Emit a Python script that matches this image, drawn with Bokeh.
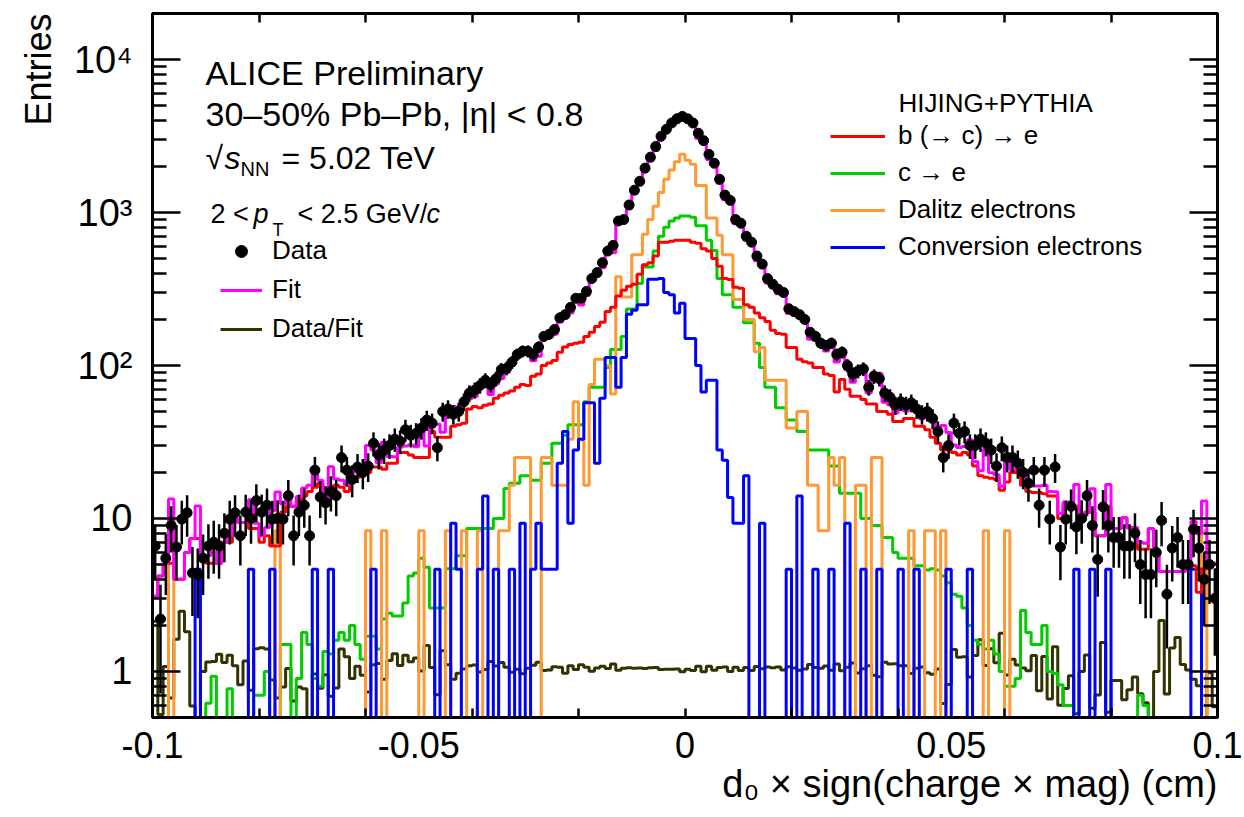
import numpy as np
from bokeh.plotting import figure
from bokeh.models import (Range1d, LinearAxis, LogAxis, FixedTicker, Label,
                          Legend, LegendItem, Title)
from bokeh.embed import file_html
from bokeh.resources import INLINE

# ---------------- data (200 bins of 0.001 cm, from -0.1 to 0.1) ----------------
x_low, x_high, n_bins = -0.1, 0.1, 200
y_low, y_high = 0.5, 2.0e4

b_to_e = [
    3.1, 4.2, 5.1, 5.1, 4.0, 4.0, 6.0, 7.4, 7.4, 5.5,
    5.1, 5.1, 5.1, 7.0, 7.0, 10, 9.4, 9.4, 8.6, 8.6,
    7.0, 7.7, 6.6, 6.6, 11, 12, 12, 13, 14, 15,
    16, 17, 12, 15.8, 16.5, 16, 15, 18, 18.6, 20,
    20, 21.7, 21.7, 21, 23, 23, 27, 27, 26, 25,
    25, 25, 37, 34, 34, 34, 40, 41, 42, 52,
    54, 53, 55, 56, 61, 64, 66, 68, 72, 75,
    74, 85, 88, 100, 104, 108, 122, 132, 137, 140,
    142, 155, 165, 180, 192, 225, 240, 285, 310, 330,
    340, 395, 455, 470, 520, 640, 640, 650, 660, 660,
    660, 640, 630, 580, 560, 500, 445, 370, 365, 325,
    320, 250, 240, 220, 205, 194, 170, 162, 160, 131,
    131, 110, 106, 104, 97, 97, 88, 86, 67, 81,
    70, 63, 63, 60, 56, 56, 50, 50, 48, 43,
    43, 45, 45, 40, 40, 38, 34, 31, 28, 28,
    27, 26, 27, 26, 22, 19, 18.6, 18.3, 18, 15.3,
    17.3, 20, 20, 16.5, 15, 14.8, 14.8, 14.5, 14, 14,
    10, 12.2, 12.2, 12, 10, 11, 11, 7.7, 7.7, 12,
    8.6, 8.6, 10.1, 8.7, 8.7, 6.3, 6.3, 8.6, 6.0, 4.5,
    4.5, 4.5, 4.5, 4.5, 4.9, 4.9, 3.3, 4.7, 5.1, 5.1,
]

c_to_e = [
    0, 0, 0, 0, 0, 0, 0, 0, 0, 0,
    0.62, 0.93, 0, 0, 0.77, 0, 0, 0, 0, 0.7,
    0.7, 1.0, 0, 0, 1.5, 1.5, 0, 0.9, 1.8, 1.5,
    0.9, 0.8, 1.35, 1.3, 1.6, 1.8, 1.6, 2.0, 1.5, 1.2,
    1.7, 1.7, 1.4, 2.2, 2.4, 2.3, 2.3, 2.8, 4.2, 4.4,
    5.5, 4.8, 2.6, 2.6, 2.6, 4.7, 4.7, 5.7, 5.7, 8.6,
    8.6, 8.6, 8.6, 8.6, 10, 10, 15.7, 17, 17, 19,
    19, 17.8, 17.8, 23, 23, 31, 31, 35, 41, 41,
    41, 58, 72, 72, 72, 97, 127, 127, 155, 234,
    234, 343, 440, 440, 560, 700, 800, 880, 920, 950,
    950, 930, 820, 820, 660, 565, 370, 290, 290, 240,
    240, 190, 190, 140, 97, 72, 72, 53, 53, 44,
    44, 37, 37, 28, 28, 28, 28, 22, 22, 14.6,
    14.6, 14.6, 14.6, 10, 10, 9, 9, 7.5, 7.5, 6,
    5.5, 5.5, 5.5, 4.9, 4.9, 4.6, 4.7, 4.6, 4.2, 3.8,
    3.2, 3.1, 2.6, 2.0, 1.6, 1.5, 1.4, 1.6, 1.3, 1.0,
    0.8, 0.8, 0.9, 2.5, 1.8, 1.5, 1.5, 2.0, 1.0, 0.97,
    0.82, 0.6, 0.6, 0, 0, 0, 0, 0, 0, 0,
    0, 0, 0, 0, 0, 0.7, 0.6, 0, 0, 0,
    0, 0, 0, 0, 0, 0, 0, 0, 0, 0,
]

dalitz = [
    0, 0, 0, 8.3, 0, 0, 0, 0, 0, 0,
    0, 0, 0, 0, 0, 0, 0, 0, 0, 0,
    0, 0, 0, 8.3, 0, 0, 0, 0, 0, 0,
    0, 0, 0, 0, 0, 0, 0, 0, 0, 0,
    8.3, 0, 0, 8.3, 0, 0, 0, 0, 0, 0,
    8.3, 0, 0, 0, 0, 8.3, 0, 0, 8.3, 0,
    0, 8.3, 0, 0, 0, 8.3, 8.3, 16.5, 25, 25,
    25, 0, 0, 25, 25, 16.5, 16.5, 16.5, 33, 58,
    33, 16.5, 75, 110, 110, 100, 65, 380, 280, 280,
    530, 530, 720, 900, 1100, 1350, 1650, 1900, 2150, 2400,
    2200, 2070, 1500, 1500, 920, 920, 710, 530, 530, 270,
    270, 200, 200, 123, 131, 80, 80, 80, 80, 39,
    39, 50, 50, 16.5, 16.5, 8.3, 8.3, 25, 16.5, 25,
    0, 0, 16.5, 16.5, 0, 25, 25, 0, 0, 0,
    0, 0, 8.3, 0, 0, 8.3, 8.3, 0, 8.3, 0,
    0, 0, 0, 0, 0, 0, 8.3, 0, 0, 0,
    8.3, 0, 0, 0, 0, 0, 0, 0, 0, 0,
    0, 0, 0, 0, 0, 0, 0, 0, 0, 0,
    0, 0, 0, 0, 0, 0, 0, 0, 0, 0,
    0, 0, 0, 0, 0, 0, 0, 8.3, 0, 0,
]

conversion = [
    0, 0, 0, 0, 0, 0, 0, 0, 4.65, 0,
    0, 0, 0, 0, 0, 0, 0, 0, 4.65, 0,
    0, 0, 4.65, 0, 0, 0, 0, 0, 0, 0,
    4.65, 0, 0, 4.65, 0, 0, 0, 0, 0, 0,
    0, 4.65, 0, 0, 0, 0, 0, 0, 0, 0,
    0, 0, 0, 4.65, 0, 0, 9.3, 4.65, 0, 0,
    0, 4.65, 14, 0, 4.65, 0, 0, 4.65, 0, 9.3,
    0, 4.65, 9.3, 4.65, 4.65, 4.65, 23, 37, 9.3, 28,
    33, 57, 57, 23, 61, 113, 113, 72, 113, 216,
    230, 250, 250, 366, 366, 370, 300, 290, 220, 255,
    150, 150, 100, 67, 80, 80, 28, 24, 13.7, 9.3,
    9.3, 19, 0, 0, 9.3, 0, 0, 0, 0, 4.65,
    0, 14, 0, 0, 4.65, 0, 0, 4.65, 0, 0,
    9.3, 0, 0, 4.65, 0, 0, 4.65, 0, 0, 0,
    4.65, 0, 0, 4.65, 0, 0, 0, 0, 0, 4.65,
    0, 0, 0, 4.65, 0, 0, 0, 0, 0, 0,
    0, 0, 0, 0, 0, 0, 0, 0, 0, 0,
    0, 0, 0, 4.65, 0, 0, 4.65, 0, 0, 4.65,
    0, 0, 0, 0, 0, 0, 0, 0, 0, 0,
    0, 0, 0, 0, 0, 4.65, 4.65, 0, 0, 0,
]

data_counts = [
    6.6, 2.2, 5.5, 9.0, 6.5, 9.9, 10.9, 4.4, 4.3, 5.5,
    6.6, 7.0, 6.6, 8.0, 9.9, 10.9, 7.7, 11, 10, 13.1,
    11, 12.2, 9.9, 10, 9.9, 14.1, 7.7, 11, 12.2, 7.7,
    20.7, 13.8, 12.7, 15, 14.1, 25, 20.7, 18, 21.7, 20,
    22, 31, 26, 28, 30, 33, 32, 38, 35, 36,
    39, 44, 42, 29, 50, 52, 48, 50, 58, 66,
    69, 74, 80, 75, 82, 94, 96, 105, 118, 124,
    124, 118, 132, 155, 160, 172, 205, 215, 240, 275,
    275, 305, 370, 405, 470, 560, 610, 880, 900, 1120,
    1400, 1600, 1950, 2300, 2700, 3150, 3500, 3850, 4100, 4250,
    4100, 3850, 3300, 2950, 2400, 2100, 1650, 1300, 1200, 900,
    850, 700, 640, 520, 460, 370, 340, 315, 300, 235,
    225, 215, 200, 165, 155, 140, 135, 140, 118, 122,
    100, 88, 92, 95, 72, 85, 82, 66, 62, 55,
    58, 55, 57, 52, 48, 50, 45, 37, 25, 30,
    42, 36, 37, 30, 30, 33, 31, 28, 22, 29,
    25, 25, 23, 20, 17, 20.7, 12.2, 20.7, 9.9, 21.7,
    6.5, 9.9, 12, 8.8, 10, 14.1, 9, 5.4, 11.9, 9,
    7.5, 7.5, 6.6, 6.6, 8, 5, 4.3, 4.3, 6, 9.7,
    3.2, 6.4, 7.5, 5, 5, 8.5, 6.4, 4, 5, 3,
]

x_label_ticks = [-0.1, -0.05, 0, 0.05, 0.1]
x_label_texts = ["-0.1", "-0.05", "0", "0.05", "0.1"]
x_tick_marks = [-0.1, -0.08, -0.06, -0.04, -0.02, 0, 0.02, 0.04, 0.06, 0.08, 0.1]
y_major_ticks = [1, 10, 100, 1000, 10000]
y_major_texts = ["1", "10", "10²", "10³", "10⁴"]

series_labels = ["b (→ c) → e", "c → e", "Dalitz electrons", "Conversion electrons"]
x_title = "d₀ × sign(charge × mag) (cm)"
y_title = "Entries"

# ---------------- styling ----------------
FONT = "Liberation Sans"
C_B, C_C, C_D, C_V = "#ff0000", "#00cc00", "#ff9933", "#0000ff"
C_FIT, C_RATIO = "#ff00ff", "#333300"
LW = 3

# ---------------- derived quantities ----------------
edges = np.linspace(x_low, x_high, n_bins + 1)
centers = 0.5 * (edges[:-1] + edges[1:])
b = np.asarray(b_to_e, float)
c = np.asarray(c_to_e, float)
dz = np.asarray(dalitz, float)
cv = np.asarray(conversion, float)
fit = b + c + dz + cv
data = np.asarray(data_counts, float)
err = np.sqrt(data)
ratio = data / fit


def step_vals(v):
    v = np.where(v > 0, v, 1e-3)
    return np.append(v, v[-1])


# frame position in the picture (used only to place text annotations)
FL, FR, FT, FB = 152, 1217, 13, 717


def xd(px):
    return x_low + (px - FL) / (FR - FL) * (x_high - x_low)


def yd(py):
    return y_low * (y_high / y_low) ** ((FB - py) / (FB - FT))


p = figure(frame_width=FR - FL, frame_height=FB - FT,
           x_range=Range1d(x_low, x_high), y_range=Range1d(y_low, y_high),
           y_axis_type="log", output_backend="svg", toolbar_location=None,
           min_border_left=FL, min_border_right=1244 - FR, min_border_top=FT,
           min_border_bottom=817 - FB)
p.xgrid.visible = False
p.ygrid.visible = False
p.outline_line_color = "black"
p.outline_line_width = 3
p.background_fill_color = "white"
p.border_fill_color = "white"

# bottom axis: tick marks every 0.02, labels hidden
xa = p.xaxis[0]
xa.ticker = FixedTicker(ticks=x_tick_marks, minor_ticks=[])
xa.major_tick_in = 9
xa.major_tick_out = 0
xa.major_tick_line_width = 2.5
xa.axis_line_width = 3
xa.major_label_text_font_size = "0px"
xa.major_label_standoff = 0
xa.major_label_overrides = {t: "" for t in x_tick_marks}

# second bottom axis: labels only
xl = LinearAxis(ticker=FixedTicker(ticks=x_label_ticks, minor_ticks=[]),
                major_label_overrides=dict(zip(x_label_ticks, x_label_texts)),
                major_tick_in=0, major_tick_out=0, axis_line_color=None,
                major_tick_line_color=None, minor_tick_line_color=None,
                major_label_standoff=14, major_label_text_font=FONT,
                major_label_text_font_size="36px", major_label_text_color="black")
p.add_layout(xl, "below")

p.add_layout(Title(text=x_title, align="right", text_font=FONT,
                   text_font_size="38px", text_font_style="normal",
                   text_color="black", standoff=1), "below")

# top axis mirror ticks
xt = LinearAxis(ticker=FixedTicker(ticks=x_tick_marks, minor_ticks=[]),
                major_tick_in=9, major_tick_out=0, major_tick_line_width=2.5,
                axis_line_width=3, major_label_text_font_size="0px",
                major_label_standoff=0,
                major_label_overrides={t: "" for t in x_tick_marks})
p.add_layout(xt, "above")

y_minor = [k * 10.0 ** e for e in range(-1, 5) for k in range(2, 10)
           if y_low <= k * 10.0 ** e <= y_high]

ya = p.yaxis[0]
ya.ticker = FixedTicker(ticks=y_major_ticks, minor_ticks=y_minor)
ya.major_label_overrides = dict(zip(y_major_ticks, y_major_texts))
ya.major_tick_in = 28
ya.major_tick_out = 0
ya.minor_tick_in = 14
ya.minor_tick_out = 0
ya.major_tick_line_width = 2.5
ya.minor_tick_line_width = 2.5
ya.axis_line_width = 3
ya.major_label_standoff = 20
ya.major_label_text_font = FONT
ya.major_label_text_font_size = "38px"
ya.major_label_text_color = "black"

p.add_layout(Title(text=y_title, align="right", text_font=FONT,
                   text_font_size="36px", text_font_style="normal",
                   text_color="black", standoff=23), "left")

yr = LogAxis(ticker=FixedTicker(ticks=y_major_ticks, minor_ticks=y_minor),
             major_tick_in=28, major_tick_out=0, minor_tick_in=14, minor_tick_out=0,
             major_tick_line_width=2.5, minor_tick_line_width=2.5,
             axis_line_width=3, major_label_text_font_size="0px",
             major_label_standoff=0,
             major_label_overrides={t: "" for t in y_major_ticks})
p.add_layout(yr, "right")

# ---------------- histograms ----------------
r_ratio = p.step(edges, step_vals(ratio), mode="after", line_color=C_RATIO, line_width=LW)
r_c = p.step(edges, step_vals(c), mode="after", line_color=C_C, line_width=LW)
r_d = p.step(edges, step_vals(dz), mode="after", line_color=C_D, line_width=LW)
r_v = p.step(edges, step_vals(cv), mode="after", line_color=C_V, line_width=LW)
r_b = p.step(edges, step_vals(b), mode="after", line_color=C_B, line_width=LW)
r_fit = p.step(edges, step_vals(fit), mode="after", line_color=C_FIT, line_width=LW)
p.segment(centers, data - err, centers, data + err, line_color="black", line_width=2.5)
r_data = p.scatter(centers, data, size=10, marker="circle",
                   fill_color="black", line_color="black")

# ---------------- legends ----------------
leg1 = Legend(items=[LegendItem(label="Data", renderers=[r_data]),
                     LegendItem(label="Fit", renderers=[r_fit]),
                     LegendItem(label="Data/Fit", renderers=[r_ratio])],
              location=(68, 373), orientation="vertical",
              glyph_width=42, glyph_height=30, label_height=30,
              label_standoff=10, spacing=8, padding=0, margin=0,
              border_line_color=None, background_fill_alpha=0,
              label_text_font=FONT, label_text_font_size="26px",
              label_text_color="black")
p.add_layout(leg1)

leg2 = Legend(items=[LegendItem(label=series_labels[0], renderers=[r_b]),
                     LegendItem(label=series_labels[1], renderers=[r_c]),
                     LegendItem(label=series_labels[2], renderers=[r_d]),
                     LegendItem(label=series_labels[3], renderers=[r_v])],
              location=(678, 455), orientation="vertical",
              glyph_width=55, glyph_height=30, label_height=30,
              label_standoff=13, spacing=6, padding=0, margin=0,
              border_line_color=None, background_fill_alpha=0,
              label_text_font=FONT, label_text_font_size="26px",
              label_text_color="black")
p.add_layout(leg2)


# ---------------- text ----------------
def lab(px, py, text, size, style="normal", align="left"):
    p.add_layout(Label(x=xd(px), y=yd(py), text=text, text_font=FONT,
                       text_font_size=f"{size}px", text_font_style=style,
                       text_align=align, text_baseline="middle",
                       text_color="black"))


lab(205, 72, "ALICE Preliminary", 34)
lab(205, 113, "30–50% Pb–Pb, |η| < 0.8", 34)
lab(205, 157, "√", 32)
lab(224, 157, "s", 32, "italic")
lab(240, 168, "NN", 20)
lab(281, 157, "= 5.02 TeV", 32)
lab(210, 213, "2 <", 27)
lab(253, 213, "p", 27, "italic")
lab(272, 229, "T", 18)
lab(297, 213, "< 2.5 GeV/", 27)
lab(426, 213, "c", 27, "italic")
lab(898, 102, "HIJING+PYTHIA", 26)

open("out.html", "w").write(file_html(p, INLINE))
